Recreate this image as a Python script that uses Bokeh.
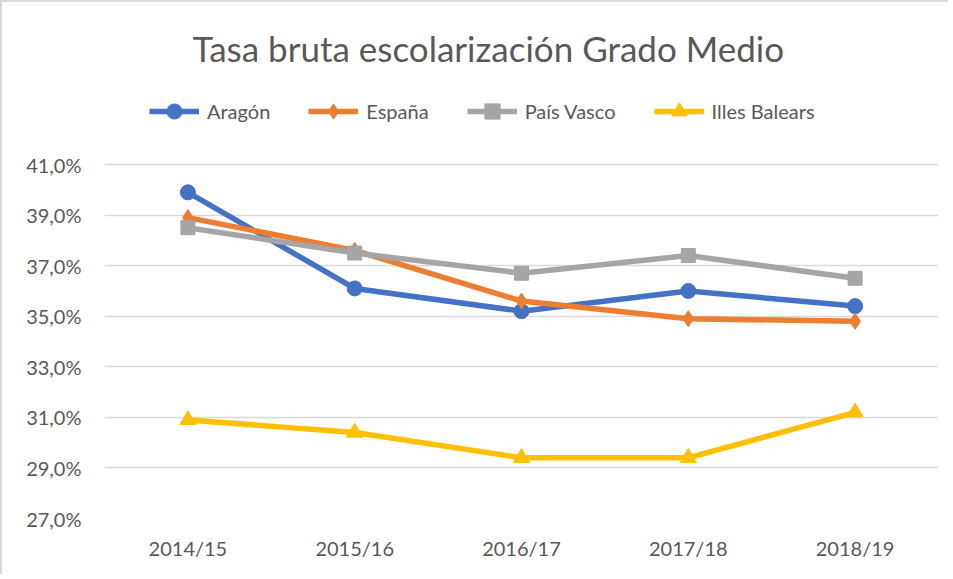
from bokeh.plotting import figure
from bokeh.models import Range1d, FixedTicker, CustomJSTickFormatter, Legend, LegendItem
from bokeh.embed import file_html
from bokeh.resources import INLINE

cursos = ["2014/15", "2015/16", "2016/17", "2017/18", "2018/19"]
aragon = [39.9, 36.1, 35.2, 36.0, 35.4]
espana = [38.9, 37.6, 35.6, 34.9, 34.8]
pais_vasco = [38.5, 37.5, 36.7, 37.4, 36.5]
illes_balears = [30.9, 30.4, 29.4, 29.4, 31.2]
y_ticks = [27, 29, 31, 33, 35, 37, 39, 41]

FONT = "Lato"
TXT = "#595959"

# y range extends above 41% to leave room for the legend inside the frame
p = figure(x_range=cursos, y_range=Range1d(27, 44.6), width=948, height=574,
           output_backend="svg", toolbar_location=None,
           min_border_left=102, min_border_right=12, min_border_bottom=58, min_border_top=71)
p.styles = {"border-top": "2px solid #d9d9d9", "border-left": "2px solid #d9d9d9"}

p.title.text = "Tasa bruta escolarización Grado Medio"
p.title.align = "left"
p.title.offset = 88
p.title.text_font = FONT
p.title.text_font_size = "35px"
p.title.text_font_style = "normal"
p.title.text_color = TXT
p.title.standoff = 10

p.outline_line_color = None
p.xgrid.grid_line_color = None
p.ygrid.grid_line_color = "#d9d9d9"
p.ygrid.grid_line_width = 1.5
p.yaxis.ticker = FixedTicker(ticks=y_ticks)
p.yaxis.formatter = CustomJSTickFormatter(code="return tick.toFixed(1).replace('.', ',') + '%';")
for ax in (p.xaxis, p.yaxis):
    ax.axis_line_color = None
    ax.major_tick_line_color = None
    ax.minor_tick_line_color = None
    ax.major_label_text_font = FONT
    ax.major_label_text_font_size = "20px"
    ax.major_label_text_color = TXT
p.yaxis.major_label_standoff = 17
p.xaxis.major_label_standoff = 11

series = [
    ("Aragón", aragon, "#4472C4", "circle", 15),
    ("España", espana, "#ED7D31", "diamond", 16),
    ("País Vasco", pais_vasco, "#A5A5A5", "square", 14),
    ("Illes Balears", illes_balears, "#FFC000", "triangle", 16),
]
items = []
for name, vals, color, marker, size in series:
    l = p.line(cursos, vals, line_color=color, line_width=5.5)
    s = p.scatter(cursos, vals, marker=marker, size=size, fill_color=color, line_color=color)
    items.append(LegendItem(label=name, renderers=[l, s]))

# location = (left, bottom) of the legend box, in px from the frame's bottom-left
legend = Legend(items=items, orientation="horizontal", location=(45, 388),
                border_line_color=None, background_fill_alpha=0,
                glyph_width=50, glyph_height=38, label_standoff=8, spacing=38,
                label_text_font=FONT, label_text_font_size="20px", label_text_color=TXT,
                margin=0, padding=10)
p.add_layout(legend, "center")

open("out.html", "w").write(file_html(p, INLINE))
